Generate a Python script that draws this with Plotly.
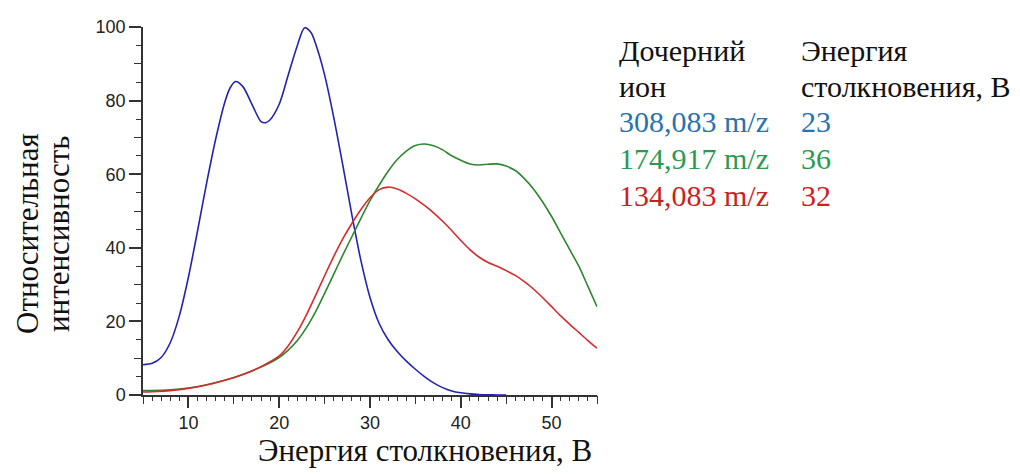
import plotly.graph_objects as go

# Collision energy (V) and relative intensity (%) for each product ion
energy_308 = [5, 6, 7, 8, 9, 10, 11, 12, 13, 14, 14.6, 15.2, 16, 17, 18, 18.5, 19, 20, 21, 22,
              22.8, 23.5, 24, 25, 26, 27, 28, 29, 30, 31, 32, 33, 34, 35, 36, 37, 38, 39, 40,
              41, 42, 43, 44, 45]
intens_308 = [8.2, 8.6, 10.2, 14.2, 21.5, 32.0, 44.5, 57.5, 69.5, 79.5, 83.5, 85.2, 83.8, 79.0,
              74.3, 74.0, 74.8, 79.0, 87.0, 95.0, 99.8, 98.5, 95.5, 87.0, 75.5, 62.5, 49.0, 36.5,
              26.5, 19.5, 15.0, 11.8, 9.2, 7.0, 5.0, 3.3, 2.0, 1.1, 0.6, 0.3, 0.12, 0.05, 0.02, 0.0]

energy_174 = [5, 6, 8, 10, 12, 14, 16, 18, 20, 21, 22, 23, 24, 25, 26, 27, 28, 29, 30, 31, 32, 33,
              34, 35, 36, 37, 38, 39, 40, 41, 42, 43, 44, 45, 46, 47, 48, 49, 50, 51, 52, 53, 54, 55]
intens_174 = [1.2, 1.2, 1.4, 1.9, 2.8, 4.0, 5.6, 7.6, 10.2, 12.2, 14.8, 18.3, 22.6, 27.6, 32.8,
              38.0, 43.0, 48.0, 52.8, 57.0, 60.8, 64.0, 66.3, 67.8, 68.2, 67.7, 66.6, 65.0, 63.8,
              62.8, 62.5, 62.7, 62.8, 62.2, 61.0, 58.8, 56.0, 52.5, 48.5, 44.0, 39.5, 35.0, 29.5, 24.0]

energy_134 = [5, 6, 8, 10, 12, 14, 16, 18, 20, 21, 22, 23, 24, 25, 26, 27, 28, 29, 30, 31, 32, 33,
              34, 35, 36, 37, 38, 39, 40, 41, 42, 43, 44, 45, 46, 47, 48, 49, 50, 51, 52, 53, 54, 55]
intens_134 = [0.8, 0.9, 1.2, 1.8, 2.7, 4.0, 5.6, 7.7, 10.6, 13.4, 17.2, 21.8, 27.0, 32.4, 37.6,
              42.4, 46.6, 50.4, 53.6, 55.8, 56.5, 56.0, 54.8, 53.3, 51.5, 49.5, 47.2, 44.7, 42.0,
              39.5, 37.5, 36.0, 35.0, 33.8, 32.5, 30.8, 28.8, 26.5, 24.0, 21.5, 19.2, 17.0, 14.8, 12.7]

ion_labels = ["308,083 m/z", "174,917 m/z", "134,083 m/z"]
best_energy = ["23", "36", "32"]
line_colors = ["rgb(35,35,175)", "rgb(45,135,45)", "rgb(212,45,45)"]
text_colors = ["rgb(40,115,175)", "rgb(40,155,80)", "rgb(205,30,30)"]

x_ticks = [10, 20, 30, 40, 50]
y_ticks = [0, 20, 40, 60, 80, 100]

W, H = 1020, 474
ML, MR, MT, MB = 143, 423, 27, 79
PW, PH = W - ML - MR, H - MT - MB


def px(xp):
    return (xp - ML) / PW


def py(yp):
    return (H - MB - yp) / PH


fig = go.Figure()
series = [(energy_308, intens_308), (energy_174, intens_174), (energy_134, intens_134)]
# the last curve sits on the overlay axes pair so those axes (mid-level ticks) get drawn
axes_for = [("x", "y"), ("x", "y"), ("x2", "y2")]
for (xs, ys), col, (xa, ya) in zip(series, line_colors, axes_for):
    fig.add_trace(go.Scatter(x=xs, y=ys, mode="lines", xaxis=xa, yaxis=ya,
                             line=dict(color=col, width=1.6, shape="spline", smoothing=0.8),
                             showlegend=False, hoverinfo="skip"))

axis_col = "#333333"
tick_font = dict(family="Liberation Sans, Arial", size=18, color="#222222")

fig.update_layout(
    width=W, height=H,
    margin=dict(l=ML, r=MR, t=MT, b=MB),
    paper_bgcolor="white", plot_bgcolor="white",
    xaxis=dict(range=[5, 55], tickmode="array", tickvals=x_ticks,
               ticks="outside", ticklen=11, tickwidth=1.5, tickcolor=axis_col,
               showline=True, linecolor=axis_col, linewidth=1.5,
               showgrid=False, zeroline=False, tickfont=tick_font,
               minor=dict(tickmode="linear", tick0=0, dtick=1, ticks="outside",
                          ticklen=4, tickwidth=1.2, tickcolor=axis_col, showgrid=False)),
    yaxis=dict(range=[0, 100], tickmode="array", tickvals=y_ticks,
               ticks="outside", ticklen=12, tickwidth=1.5, tickcolor=axis_col,
               showline=True, linecolor=axis_col, linewidth=1.5,
               showgrid=False, zeroline=False, tickfont=tick_font,
               minor=dict(tickmode="linear", tick0=0, dtick=5, ticks="outside",
                          ticklen=5, tickwidth=1.2, tickcolor=axis_col, showgrid=False)),
    xaxis2=dict(range=[5, 55], overlaying="x", anchor="y2", side="bottom",
                tickmode="linear", tick0=5, dtick=5, ticks="outside", ticklen=8,
                tickwidth=1.3, tickcolor=axis_col, showticklabels=False,
                showline=False, showgrid=False, zeroline=False),
    yaxis2=dict(range=[0, 100], overlaying="y", anchor="x2", side="left",
                tickmode="linear", tick0=0, dtick=10, ticks="outside", ticklen=8,
                tickwidth=1.3, tickcolor=axis_col, showticklabels=False,
                showline=False, showgrid=False, zeroline=False),
)

serif = "Liberation Serif, Times New Roman, serif"
title_font = dict(family=serif, size=31, color="#111111")
ann = []
# axis titles
ann.append(dict(text="Энергия столкновения, В", x=px(425), y=py(450), xref="paper", yref="paper",
                xanchor="center", yanchor="middle", showarrow=False, font=title_font))
ann.append(dict(text="Относительная", x=px(28), y=py(233), xref="paper", yref="paper",
                xanchor="center", yanchor="middle", textangle=-90, showarrow=False, font=title_font))
ann.append(dict(text="интенсивность", x=px(58), y=py(234), xref="paper", yref="paper",
                xanchor="center", yanchor="middle", textangle=-90, showarrow=False, font=title_font))

# table-style key at the right
key_font = dict(family=serif, size=30, color="#111111")
col1, col2 = 617, 799
head_rows = [51, 86]
for txt, yc in zip(["Дочерний", "ион"], head_rows):
    ann.append(dict(text=txt, x=px(col1), y=py(yc), xref="paper", yref="paper",
                    xanchor="left", yanchor="middle", showarrow=False, font=key_font))
for txt, yc in zip(["Энергия", "столкновения, В"], head_rows):
    ann.append(dict(text=txt, x=px(col2), y=py(yc), xref="paper", yref="paper",
                    xanchor="left", yanchor="middle", showarrow=False, font=key_font))
for i, (lab, en, tc) in enumerate(zip(ion_labels, best_energy, text_colors)):
    yc = 121 + 37 * i
    f = dict(family=serif, size=30, color=tc)
    ann.append(dict(text=lab, x=px(col1), y=py(yc), xref="paper", yref="paper",
                    xanchor="left", yanchor="middle", showarrow=False, font=f))
    ann.append(dict(text=en, x=px(col2), y=py(yc), xref="paper", yref="paper",
                    xanchor="left", yanchor="middle", showarrow=False, font=f))

fig.update_layout(annotations=ann)
fig.write_html("out.html")
